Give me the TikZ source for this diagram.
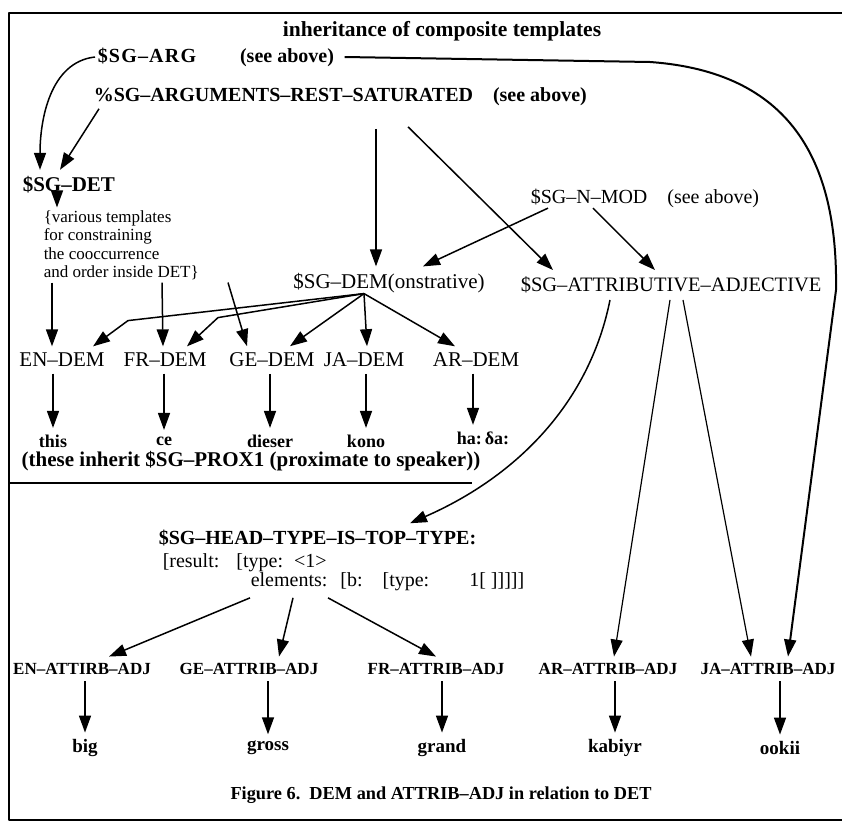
\documentclass[tikz,border=0pt]{standalone}
\usepackage{fontspec}
\setmainfont{Liberation Serif}
\usetikzlibrary{arrows.meta}
\tikzset{
  tx/.style={inner xsep=2pt, inner ysep=6pt, font=\fontsize{21}{24}\selectfont},
  btx/.style={tx, font=\fontsize{20}{24}\selectfont\bfseries},
  wd/.style={tx, font=\fontsize{18}{22}\selectfont\bfseries},
  adj/.style={tx, font=\fontsize{17}{20}\selectfont\bfseries},
}
\begin{document}
\begin{tikzpicture}[x=1pt, y=-1pt, line join=round, line width=1.5pt, >={Triangle[length=17pt,width=12pt]}]
		\useasboundingbox (0,0) rectangle (842,822);
		\draw[line width=2.5pt] (842,13) -- (9,13) -- (9,820) -- (842,820);
		\node[btx, font=\fontsize{21.5}{24}\selectfont\bfseries] (title) at (442,31) {inheritance of composite templates};
		% upper tree
		\node[btx, anchor=west] (sgarg) at (95,57) {{\addfontfeature{LetterSpace=6}\$SG--ARG}\hspace{44pt}(see above)};
		\node[btx, anchor=west] (sgargs) at (91,97) {\%SG--ARGUMENTS--REST--SATURATED\quad(see above)};
		\node[btx, anchor=west, font=\fontsize{21}{24}\selectfont\bfseries] (sgdet) at (20,185) {\$SG--DET};
		\node[tx, anchor=west, align=left, font=\fontsize{17}{18.5}\selectfont] (various) at (41,245)
			{\{various templates\\for constraining\\the cooccurrence\\and order inside DET\}};
		\node[tx] (sgdem) at (389,283) {\$SG--DEM(onstrative)};
		\node[tx, anchor=west, font=\fontsize{20}{24}\selectfont] (sgnmod) at (528,198) {\$SG--N--MOD\quad(see above)};
		\node[tx, anchor=west, font=\fontsize{20.5}{24}\selectfont] (sgattr) at (518,285) {\$SG--ATTRIBUTIVE--ADJECTIVE};
		\node[tx] (en) at (62,360) {EN--DEM};
		\node[tx] (fr) at (165,360) {FR--DEM};
		\node[tx] (ge) at (272,360) {GE--DEM};
		\node[tx] (ja) at (364,360) {JA--DEM};
		\node[tx] (ar) at (476,360) {AR--DEM};
		\node[wd] (this) at (53,441) {this};
		\node[wd] (ce) at (164,441) {ce};
		\node[wd] (dieser) at (270,441) {dieser};
		\node[wd] (kono) at (366,441) {kono};
		\node[wd] (hadha) at (483,438) {ha:\,δa:};
		\node[wd, font=\fontsize{21}{24}\selectfont\bfseries] (these) at (251,461) {(these inherit \$SG--PROX1 (proximate to speaker))};
		\draw (9,483) -- (472,483);
		% lower tree
		\node[btx, anchor=west] (sghead) at (156,538) {\$SG--HEAD--TYPE--IS--TOP--TYPE:};
		\node[tx, anchor=west, font=\fontsize{20}{22}\selectfont] (result) at (160,563) {[result:\hspace{17pt}[type:\hspace{11pt}<1>};
		\node[tx, anchor=west, font=\fontsize{20}{22}\selectfont] (elements) at (248,582) {elements:\hspace{13pt}[b:\hspace{20pt}[type:\hspace{40pt}1[ ]]]]]};
		\node[adj] (enadj) at (82,669) {EN--ATTIRB--ADJ};
		\node[adj] (geadj) at (249,669) {GE--ATTRIB--ADJ};
		\node[adj] (fradj) at (436,669) {FR--ATTRIB--ADJ};
		\node[adj] (aradj) at (608,669) {AR--ATTRIB--ADJ};
		\node[adj] (jaadj) at (768,669) {JA--ATTRIB--ADJ};
		\node[wd, font=\fontsize{19}{22}\selectfont\bfseries] (big) at (85,748) {big};
		\node[wd, font=\fontsize{19}{22}\selectfont\bfseries] (gross) at (268,748) {gross};
		\node[wd, font=\fontsize{19}{22}\selectfont\bfseries] (grand) at (442,748) {grand};
		\node[wd, font=\fontsize{19}{22}\selectfont\bfseries] (kabiyr) at (615,748) {kabiyr};
		\node[wd, font=\fontsize{19}{22}\selectfont\bfseries] (ookii) at (780,748) {ookii};
		\node[wd, font=\fontsize{18.3}{22}\selectfont\bfseries] (caption) at (441,795) {Figure 6.\ \ DEM and ATTRIB--ADJ in relation to DET};
		% connectors
		\coordinate (hub) at ([xshift=-25pt,yshift=6pt]sgdem.south);
		\draw[->] (sgarg.west) .. controls +(-45,5) and +(0,-50) .. ([xshift=20pt]sgdet.north west);
		\draw[->] ([xshift=8pt,yshift=4pt]sgargs.south west) -- ([xshift=40pt]sgdet.north west);
		\draw[->] ([xshift=285pt,yshift=-16pt]sgargs.south west) -- ([xshift=-13pt]sgdem.north);
		\draw[->] ([xshift=317pt,yshift=-14pt]sgargs.south west) -- ([xshift=35pt]sgattr.north west);
		\draw[->] ([xshift=20pt,yshift=6pt]sgnmod.south west) -- ([xshift=34pt]sgdem.north);
		\draw[->] ([xshift=65pt,yshift=6pt]sgnmod.south west) -- ([xshift=137pt]sgattr.north west);
		\draw[->] ([xshift=37pt,yshift=6pt]sgdet.south west) -- ([xshift=16pt,yshift=-4pt]various.north west);
		\draw[->] ([xshift=11pt,yshift=4pt]various.south west) -- ([xshift=-10pt]en.north);
		\draw[->] ([xshift=121pt,yshift=4pt]various.south west) -- ([xshift=-2pt]fr.north);
		\draw[->] ([xshift=187pt,yshift=4pt]various.south west) -- ([xshift=-25pt]ge.north);
		\draw[->] (hub) -- ++(-236,27) -- ([xshift=31pt]en.north);
		\draw[->] (hub) -- ++(-146,24) -- ([xshift=22pt]fr.north);
		\draw[->] (hub) -- ([xshift=18pt]ge.north);
		\draw[->] (hub) -- ([xshift=3pt]ja.north);
		\draw[->] (hub) -- ([xshift=-21pt]ar.north);
		\draw[->] (en.south -| this.north) -- (this.north);
		\draw[->] (fr.south -| ce.north) -- (ce.north);
		\draw[->] (ge.south -| dieser.north) -- (dieser.north);
		\draw[->] (ja.south -| kono.north) -- (kono.north);
		\draw[->] ([xshift=-3pt]ar.south) -- ([xshift=-10pt]hadha.north);
		\draw[->] ([xshift=92pt]sgattr.south west) .. controls (590,400) and (520,475) .. ([xshift=-69pt]sghead.north east);
		\draw[->, line width=1.2pt] ([xshift=152pt]sgattr.south west) -- ([xshift=6pt]aradj.north);
		\draw[->, line width=1.2pt] ([xshift=165pt]sgattr.south west) -- ([xshift=-17pt]jaadj.north);
		\draw[->, line width=2pt] ([xshift=8pt]sgarg.east) -- (650,62) .. controls (790,72) and (838,160) .. (836,290) -- ([xshift=20pt]jaadj.north);
		\draw[->] ([xshift=2pt]elements.south west) -- ([xshift=27pt]enadj.north);
		\draw[->] ([xshift=45pt]elements.south west) -- ([xshift=30pt]geadj.north);
		\draw[->] ([xshift=80pt]elements.south west) -- (fradj.north);
		\draw[->] (enadj.south -| big.north) -- (big.north);
		\draw[->] (geadj.south -| gross.north) -- (gross.north);
		\draw[->] (fradj.south -| grand.north) -- (grand.north);
		\draw[->] (aradj.south -| kabiyr.north) -- (kabiyr.north);
		\draw[->] (jaadj.south -| ookii.north) -- (ookii.north);
\end{tikzpicture}
\end{document}
